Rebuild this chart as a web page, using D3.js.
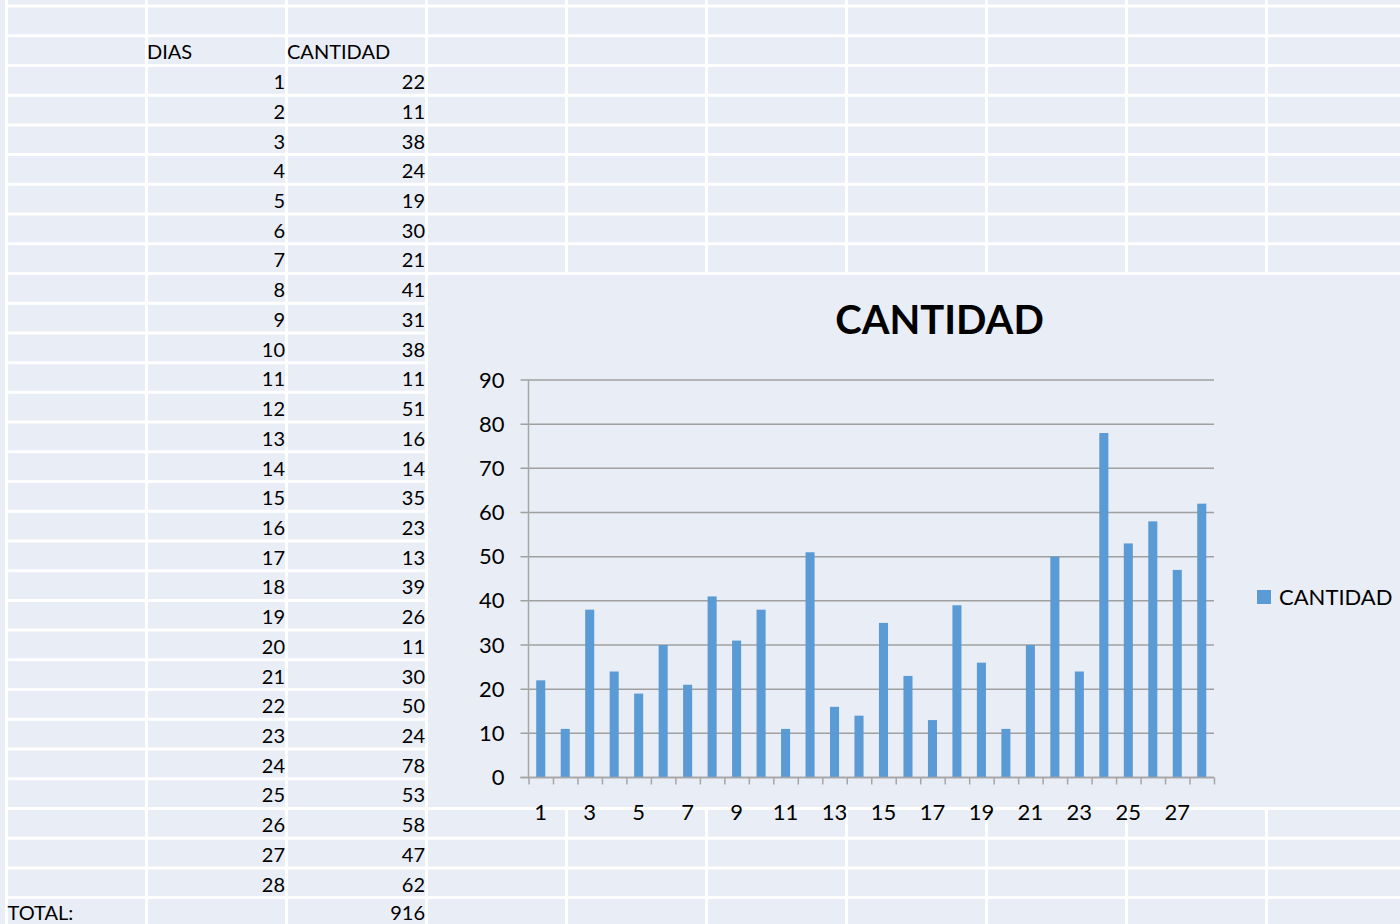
<!DOCTYPE html>
<html>
<head>
<meta charset="utf-8">
<script src="https://cdn.jsdelivr.net/npm/d3@7"></script>
<style>
  html, body { margin: 0; padding: 0; background: #e9edf5; overflow: hidden; }
  svg { display: block; font-family: Lato, "Open Sans", sans-serif; }
</style>
</head>
<body>
<main></main>
<script>
// data read from the sheet
const dias = [1,2,3,4,5,6,7,8,9,10,11,12,13,14,15,16,17,18,19,20,21,22,23,24,25,26,27,28]
const cantidad = [22,11,38,24,19,30,21,41,31,38,11,51,16,14,35,23,13,39,26,11,30,50,24,78,53,58,47,62]
const headers = ['DIAS','CANTIDAD']
const yTicks = [0,10,20,30,40,50,60,70,80,90]
const xLabels = [1,3,5,7,9,11,13,15,17,19,21,23,25,27]
const seriesName = 'CANTIDAD'
const totalLabel = 'TOTAL:'

const width = 1400
const height = 924
const bg = '#e9edf5'
const barColor = '#5b9bd5'

const svg = d3.select('main').append('svg').attr('width',width).attr('height',height)
svg.append('rect').attr('width',width).attr('height',height).attr('fill',bg)

// spreadsheet grid
const rowH = 29.72
const rowTop = 6
const colW = 140
const colLeft = 6.5
const rowY = k => rowTop + rowH * k
const colX = i => colLeft + colW * i

const grid = svg.append('g').attr('class','grid')
grid.selectAll('.hl')
  .data(d3.range(0,32))
  .enter()
  .append('line')
  .attr('x1',colX(0)).attr('x2',width)
  .attr('y1',d => rowY(d)).attr('y2',d => rowY(d))
  .attr('stroke','white').attr('stroke-width',3)
grid.selectAll('.vl')
  .data(d3.range(0,10))
  .enter()
  .append('line')
  .attr('x1',d => colX(d)).attr('x2',d => colX(d))
  .attr('y1',0).attr('y2',height)
  .attr('stroke','white').attr('stroke-width',3)

// table
const table = svg.append('g').attr('class','table').attr('font-size',20).attr('fill','#000')
table.append('text').text(headers[0]).attr('x',colX(1) + 0.5).attr('y',rowY(2) - 6)
table.append('text').text(headers[1]).attr('x',colX(2) + 0.5).attr('y',rowY(2) - 6)

const rows = table.selectAll('.row')
  .data(dias.map((d,i) => ({dia: d, val: cantidad[i]})))
  .enter()
  .append('g')
rows.append('text')
  .text(d => d.dia)
  .attr('x',colX(2) - 1.5)
  .attr('y',(d,i) => rowY(i + 3) - 6)
  .attr('text-anchor','end')
rows.append('text')
  .text(d => d.val)
  .attr('x',colX(3) - 1.5)
  .attr('y',(d,i) => rowY(i + 3) - 6)
  .attr('text-anchor','end')

table.append('text').text(totalLabel).attr('x',colX(0) + 1).attr('y',rowY(31) - 7.5)
table.append('text').text(d3.sum(cantidad)).attr('x',colX(3) - 1.5).attr('y',rowY(31) - 7.5).attr('text-anchor','end')

// chart area covers the grid
const chart = svg.append('g').attr('class','chart')
chart.append('rect')
  .attr('x',colX(3) + 1.5).attr('y',rowY(9) + 1.5)
  .attr('width',width - colX(3) - 1.5).attr('height',rowY(27) - rowY(9) - 3)
  .attr('fill',bg)

const plot = {left: 528.5, right: 1214, top: 380, bottom: 777.5}

const x = d3.scaleBand()
  .domain(dias)
  .range([plot.left, plot.right])
  .paddingInner(0.63)
  .paddingOuter(0.315)
const xEdge = d3.scaleLinear().domain([0, dias.length]).range([plot.left, plot.right])
const y = d3.scaleLinear().domain([0, 90]).range([plot.bottom, plot.top])

// horizontal gridlines
chart.append('g')
  .selectAll('line')
  .data(yTicks)
  .enter()
  .append('line')
  .attr('x1',plot.left - 8).attr('x2',plot.right)
  .attr('y1',d => y(d)).attr('y2',d => y(d))
  .attr('stroke','#a0a0a0').attr('stroke-width',1.5)

// bars
chart.append('g')
  .selectAll('rect')
  .data(cantidad)
  .enter()
  .append('rect')
  .attr('x',(d,i) => x(dias[i]))
  .attr('y',d => y(d))
  .attr('width',x.bandwidth())
  .attr('height',d => y(0) - y(d))
  .attr('fill',barColor)

// y axis
const yAxis = chart.append('g')
  .attr('transform',`translate(${plot.left},0)`)
  .call(d3.axisLeft(y).tickValues(yTicks).tickSize(8).tickPadding(16))
yAxis.select('.domain').remove()
yAxis.selectAll('line').remove()
yAxis.selectAll('text').attr('font-size',22).attr('font-family','Lato').attr('fill','#000')
chart.append('line')
  .attr('x1',plot.left).attr('x2',plot.left)
  .attr('y1',plot.top).attr('y2',plot.bottom)
  .attr('stroke','#a6a6a6').attr('stroke-width',1.5)

// x axis ticks at band edges
const xTicksG = chart.append('g')
  .attr('transform',`translate(0,${plot.bottom})`)
  .call(d3.axisBottom(xEdge).tickValues(d3.range(0, dias.length + 1)).tickFormat('').tickSize(7).tickSizeOuter(0))
xTicksG.select('.domain').attr('stroke','#a6a6a6').attr('stroke-width',1.5).attr('d',`M${plot.left - 8},0H${plot.right}`)
xTicksG.selectAll('line').attr('stroke','#a6a6a6').attr('stroke-width',1.5)

// x labels
const xLab = chart.append('g')
  .attr('transform',`translate(0,${plot.bottom})`)
  .call(d3.axisBottom(x).tickValues(xLabels).tickSize(0).tickPadding(27))
xLab.select('.domain').remove()
xLab.selectAll('text').attr('font-size',22).attr('font-family','Lato').attr('fill','#000')

// title
chart.append('text')
  .text(seriesName)
  .attr('x',939.5).attr('y',334)
  .attr('text-anchor','middle')
  .attr('font-size',40).attr('font-weight','bold')

// legend
const legend = chart.append('g').attr('transform','translate(1257,590)')
legend.append('rect').attr('width',14).attr('height',14).attr('fill',barColor)
legend.append('text').text(seriesName).attr('x',22).attr('y',15).attr('font-size',22)
</script>
</body>
</html>
